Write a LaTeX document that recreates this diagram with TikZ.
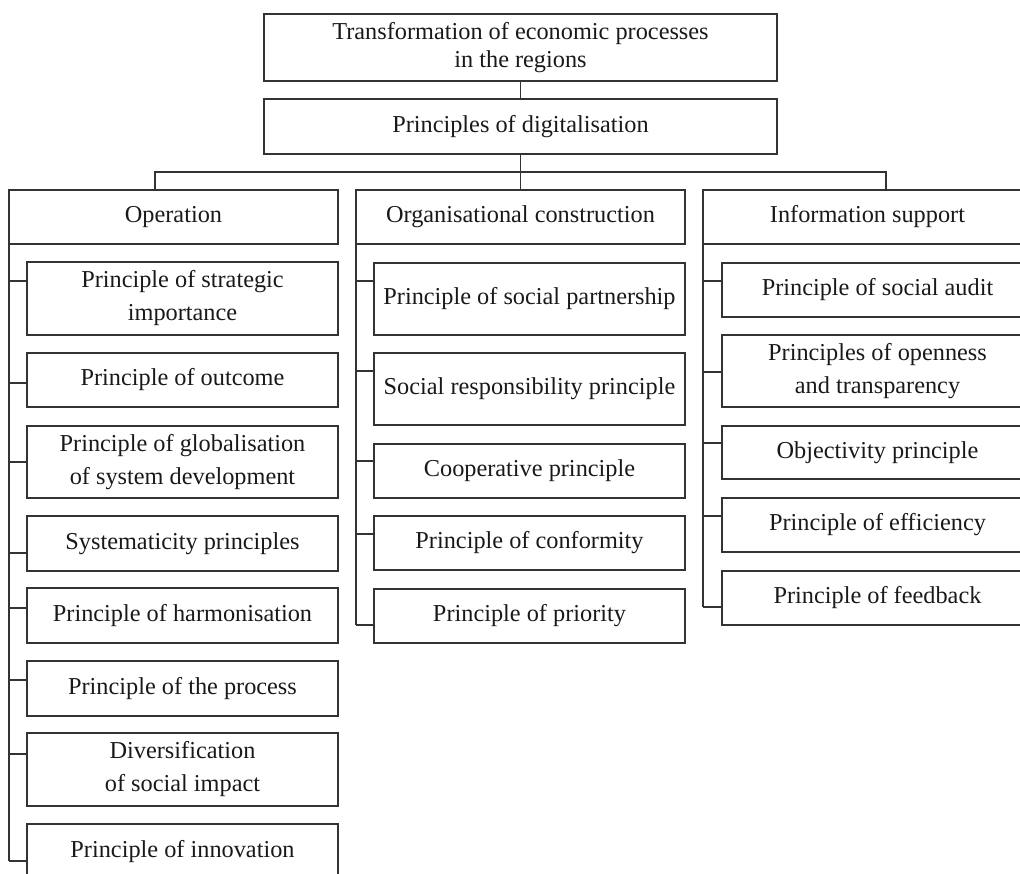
\documentclass[tikz,border=0pt]{standalone}
\usepackage{fontspec}
\setmainfont{Liberation Serif}

\begin{document}
\begin{tikzpicture}[x=1pt, y=-1pt,
    box/.style={draw=black!80, line width=1.4pt, inner sep=0pt, outer sep=0pt,
      align=center, text=black!90, font=\fontsize{24.3}{33}\selectfont},
    head/.style={box, minimum width=329, minimum height=54},
    sub/.style={box, minimum width=311},
    link/.style={draw=black!80, line width=1.4pt}]
    % 画布范围
    \clip (0,0) rectangle (1020,873);
    % 顶部两个框
    \node[box, minimum width=513, minimum height=67, font=\fontsize{24.3}{28}\selectfont]
      (top) at (520.5,47.5) {Transformation of economic processes\\in the regions};
    \node[box, minimum width=513, minimum height=55] (dig) at (520.5,126.5)
      {Principles of digitalisation};
    % 三个分类
    \node[head] (hop) at (173.5,217) {Operation};
    \node[head] (hor) at (520.5,217) {Organisational construction};
    \node[head] (hin) at (867.5,217) {Information support};
    \coordinate (opTop) at (155,190);
    \coordinate (inTop) at (886,190);
    \draw[link] (top) -- (dig);
    \draw[link] (dig) -- (hor);
    \draw[link] (opTop) |- (inTop |- 0,172) -- (inTop);
    % Operation 下的原则
    \foreach \i/\y/\h/\t in {1/298.5/73/{Principle of strategic\\importance},
        2/380/54/{Principle of outcome},
        3/462/72/{Principle of globalisation\\of system development},
        4/543.5/55/{Systematicity principles},
        5/615.5/55/{Principle of harmonisation},
        6/688.5/55/{Principle of the process},
        7/769.5/73/{Diversification\\of social impact},
        8/851.5/55/{Principle of innovation}} {
      \node[sub, minimum height=\h] (o\i) at (182.5,\y) {\t};
    }
    \foreach \i/\k in {1/281, 2/383, 3/462, 4/553, 5/608, 6/680, 7/754, 8/861} {
      \draw[link] (hop.south west |- 0,\k) -- (o\i.west |- 0,\k);
    }
    \draw[link] (hop.south west) -- (hop.south west |- 0,861);
    % Organisational construction 下的原则
    \foreach \i/\y/\h/\t in {1/299/72/{Principle of social partnership},
        2/389/72/{Social responsibility principle},
        3/471/54/{Cooperative principle},
        4/543/54/{Principle of conformity},
        5/616/54/{Principle of priority}} {
      \node[sub, minimum height=\h] (r\i) at (529.5,\y) {\t};
    }
    \foreach \i/\k in {1/281, 2/371, 3/461, 4/534, 5/625} {
      \draw[link] (hor.south west |- 0,\k) -- (r\i.west |- 0,\k);
    }
    \draw[link] (hor.south west) -- (hor.south west |- 0,625);
    % Information support 下的原则
    \foreach \i/\y/\h/\t in {1/290/54/{Principle of social audit},
        2/371/72/{Principles of openness\\and transparency},
        3/452.5/53/{Objectivity principle},
        4/525/54/{Principle of efficiency},
        5/598/54/{Principle of feedback}} {
      \node[sub, minimum height=\h] (n\i) at (877.5,\y) {\t};
    }
    \foreach \i/\k in {1/281, 2/372, 3/443, 4/516, 5/607} {
      \draw[link] (hin.south west |- 0,\k) -- (n\i.west |- 0,\k);
    }
    \draw[link] (hin.south west) -- (hin.south west |- 0,607);
\end{tikzpicture}
\end{document}
